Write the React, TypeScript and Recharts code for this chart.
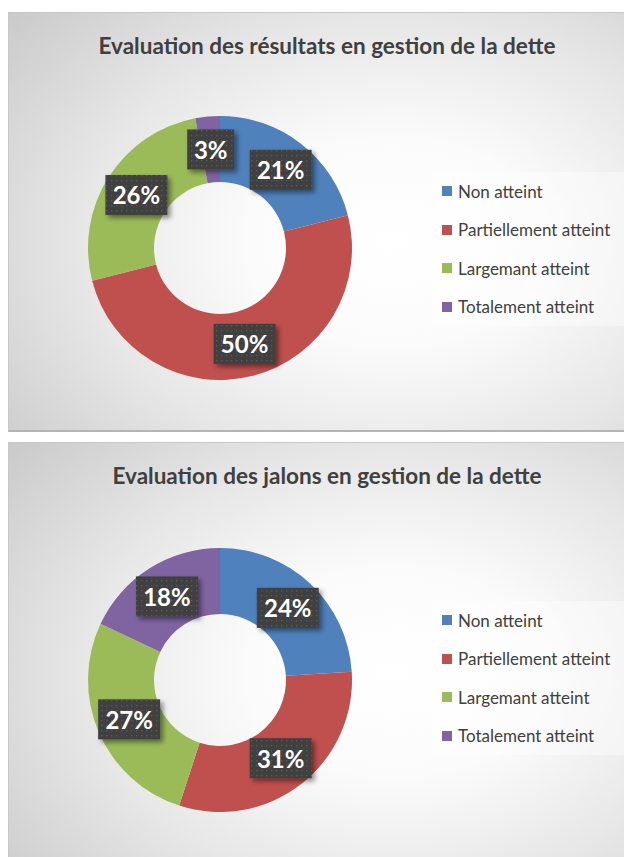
import React from "react"
import { PieChart, Pie, Cell, Legend } from "recharts"

const categories = ["Non atteint", "Partiellement atteint", "Largemant atteint", "Totalement atteint"]
const colors = ["#4f81bd", "#c0504d", "#9bbb59", "#8064a2"]

const resultatsValues = [21, 50, 26, 3]
const jalonsValues = [24, 31, 27, 18]

const titles = [
  "Evaluation des résultats en gestion de la dette",
  "Evaluation des jalons en gestion de la dette",
]

const FONT = "Lato, 'Open Sans', sans-serif"
const RAD = Math.PI / 180

function makeLabel(chartId: string) {
  return (props: any) => {
    const { cx, cy, midAngle, innerRadius, outerRadius, percent, index } = props
    const r = (innerRadius + outerRadius) / 2
    const x = cx + r * Math.cos(-midAngle * RAD)
    const y = cy + r * Math.sin(-midAngle * RAD)
    const text = `${Math.round(percent * 100)}%`
    const w = text.length * 15 + 17
    const h = 40
    const pid = `dots-${chartId}-${index}`
    const fid = `shadow-${chartId}-${index}`
    return (
      <g>
        <defs>
          <pattern id={pid} width={5} height={5} patternUnits="userSpaceOnUse">
            <rect width={5} height={5} fill="#404040" />
            <rect x={2} y={2} width={1.3} height={1.3} fill="#5a5a5a" />
          </pattern>
          <filter id={fid} x="-30%" y="-30%" width="160%" height="160%">
            <feDropShadow dx={3} dy={3} stdDeviation={2.5} floodColor="#000" floodOpacity={0.45} />
          </filter>
        </defs>
        <rect x={x - w / 2} y={y - h / 2} width={w} height={h} fill={`url(#${pid})`} filter={`url(#${fid})`} />
        <text
          x={x}
          y={y}
          textAnchor="middle"
          dominantBaseline="central"
          fill="#ffffff"
          fontFamily={FONT}
          fontWeight={700}
          fontSize={24}
        >
          {text}
        </text>
      </g>
    )
  }
}

// legend keeps the series order (recharts would sort it otherwise)
function LegendBox() {
  return (
    <div
      style={{
        width: 195,
        height: 154,
        background: "rgba(255,255,255,0.4)",
        boxSizing: "border-box",
        paddingTop: 0,
        paddingLeft: 9,
      }}
    >
      {categories.map((name, i) => (
        <div
          key={name}
          style={{ display: "flex", alignItems: "center", height: 38.5, fontFamily: FONT, fontSize: 17, color: "#404040" }}
        >
          <span style={{ display: "inline-block", width: 10, height: 10, background: colors[i], marginRight: 6 }} />
          {name}
        </div>
      ))}
    </div>
  )
}

function DonutCard({ id, title, values, cy, legendTop }: { id: string; title: string; values: number[]; cy: number; legendTop: number }) {
  const data = categories.map((name, i) => ({ name, value: values[i] }))
  return (
    <div
      style={{
        position: "relative",
        width: 622,
        height: 420,
        boxSizing: "border-box",
        border: "1px solid #c8c8c8",
        borderBottom: "2px solid #b4b4b4",
        background: "radial-gradient(ellipse 85% 90% at 62% 55%, #ffffff 0%, #fbfbfb 28%, #e6e6e6 60%, #c6c6c6 100%)",
      }}
    >
      <div
        style={{
          position: "absolute",
          top: 19,
          left: 0,
          width: 636,
          textAlign: "center",
          fontFamily: FONT,
          fontWeight: 700,
          fontSize: 22.5,
          color: "#404040",
        }}
      >
        {title}
      </div>
      <PieChart
        width={620}
        height={417}
        margin={{ top: 0, right: 0, bottom: 0, left: 0 }}
        style={{ position: "absolute", left: 0, top: 0 }}
      >
        <Pie
          data={data}
          dataKey="value"
          nameKey="name"
          cx={211}
          cy={cy}
          innerRadius={66}
          outerRadius={132}
          startAngle={90}
          endAngle={-270}
          stroke="none"
          labelLine={false}
          label={makeLabel(id)}
          isAnimationActive={false}
        >
          {data.map((d, i) => (
            <Cell key={d.name} fill={colors[i]} />
          ))}
        </Pie>
        <Legend
          layout="vertical"
          content={<LegendBox />}
          wrapperStyle={{ position: "absolute", left: 424, top: legendTop, width: 195 }}
        />
      </PieChart>
    </div>
  )
}

export default function App() {
  return (
    <div style={{ marginTop: 4 }}>
      <DonutCard id="a" title={titles[0]} values={resultatsValues} cy={235} legendTop={159} />
      <div style={{ height: 10 }} />
      <DonutCard id="b" title={titles[1]} values={jalonsValues} cy={237} legendTop={158} />
    </div>
  )
}
